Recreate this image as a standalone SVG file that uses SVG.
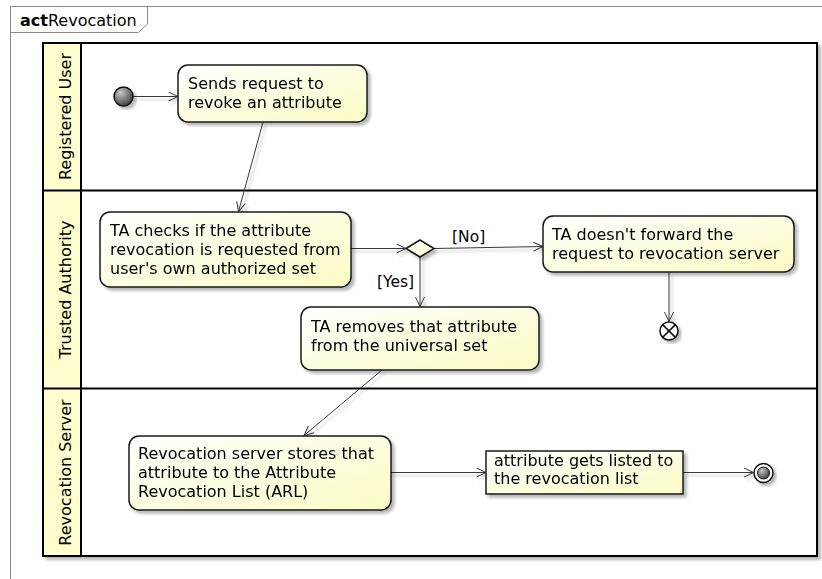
<svg xmlns="http://www.w3.org/2000/svg" width="822" height="579" viewBox="0 0 822 579">
  <defs>
    <style>
      text { font-family: "DejaVu Sans", "Liberation Sans", sans-serif; font-size: 16px; fill: #000; }
      .frame { fill: none; stroke: #8a8a8a; stroke-width: 1; }
      .lane { fill: #ffffff; stroke: #000; stroke-width: 2; }
      .lanehead { fill: #fefece; stroke: #000; stroke-width: 2; }
      .laneline { stroke: #000; stroke-width: 2; }
      .act { fill: url(#actFill); stroke: #181818; stroke-width: 1.5; }
      .edge { fill: none; stroke: #383838; stroke-width: 1; }
      .lbl { font-size: 15.5px; }
    </style>
    <linearGradient id="actFill" x1="0" y1="0" x2="1" y2="1">
      <stop offset="0" stop-color="#ffffff"/>
      <stop offset="1" stop-color="#fbfbc4"/>
    </linearGradient>
    <radialGradient id="dotFill" cx="0.35" cy="0.3" r="0.8">
      <stop offset="0" stop-color="#c8c8c8"/>
      <stop offset="1" stop-color="#333333"/>
    </radialGradient>
    <filter id="shadow" x="-10%" y="-10%" width="130%" height="130%">
      <feGaussianBlur in="SourceAlpha" stdDeviation="1.6" result="b"/>
      <feOffset in="b" dx="3" dy="3" result="o"/>
      <feComponentTransfer in="o" result="s">
        <feFuncA type="linear" slope="0.28"/>
      </feComponentTransfer>
      <feMerge>
        <feMergeNode in="s"/>
        <feMergeNode in="SourceGraphic"/>
      </feMerge>
    </filter>
    <marker id="open" markerUnits="userSpaceOnUse" markerWidth="12" markerHeight="12" refX="10" refY="5" orient="auto">
      <path d="M0.5,0.5 L10,5 L0.5,9.5" fill="none" stroke="#383838" stroke-width="1"/>
    </marker>
  </defs>

  <!-- activity frame with its name tab -->
  <g id="frame">
    <path class="frame" d="M10.5,579 V6.5 H822"/>
    <path class="frame" d="M10.5,32.5 H138.5 L147.5,24 V6.5"/>
    <text x="20" y="26"><tspan font-weight="bold">act</tspan>Revocation</text>
  </g>

  <!-- swimlanes -->
  <g id="lanes" filter="url(#shadow)">
    <rect class="lane" x="43" y="43" width="774" height="513"/>
    <rect class="lanehead" x="43" y="43" width="38" height="513"/>
    <line class="laneline" x1="43" y1="190.5" x2="817" y2="190.5"/>
    <line class="laneline" x1="43" y1="388.5" x2="817" y2="388.5"/>
  </g>
  <g id="lane-titles">
    <text transform="translate(71,116.5) rotate(-90)" text-anchor="middle">Registered User</text>
    <text transform="translate(71,289.5) rotate(-90)" text-anchor="middle">Trusted Authority</text>
    <text transform="translate(71,472.5) rotate(-90)" text-anchor="middle">Revocation Server</text>
  </g>

  <!-- connectors -->
  <g id="connectors" filter="url(#shadow)">
    <line class="edge" x1="133" y1="96.5" x2="178" y2="96.5" marker-end="url(#open)"/>
    <line class="edge" x1="263" y1="122" x2="238.5" y2="211.5" marker-end="url(#open)"/>
    <line class="edge" x1="351" y1="248.5" x2="406" y2="248.5" marker-end="url(#open)"/>
    <line class="edge" x1="434" y1="248.5" x2="543" y2="246.5" marker-end="url(#open)"/>
    <line class="edge" x1="420" y1="257" x2="420" y2="306.5" marker-end="url(#open)"/>
    <line class="edge" x1="669" y1="272" x2="669" y2="321.5" marker-end="url(#open)"/>
    <line class="edge" x1="382" y1="370" x2="304" y2="435.5" marker-end="url(#open)"/>
    <line class="edge" x1="391" y1="472.5" x2="486" y2="472.5" marker-end="url(#open)"/>
    <line class="edge" x1="683" y1="472.5" x2="753.5" y2="472.5" marker-end="url(#open)"/>
  </g>
  <g id="edge-labels">
    <text class="lbl" x="452" y="242">[No]</text>
    <text class="lbl" x="377" y="287">[Yes]</text>
  </g>

  <!-- nodes -->
  <g id="start" filter="url(#shadow)">
    <circle cx="123.5" cy="96.5" r="9.5" fill="url(#dotFill)" stroke="#111" stroke-width="1.5"/>
  </g>

  <g id="sends-request" filter="url(#shadow)">
    <rect class="act" x="178" y="65" width="189" height="57" rx="10" ry="10"/>
    <text x="188" y="89">Sends request to</text>
    <text x="188" y="108">revoke an attribute</text>
  </g>

  <g id="ta-checks" filter="url(#shadow)">
    <rect class="act" x="100" y="212" width="251" height="75" rx="10" ry="10"/>
    <text x="110" y="236">TA checks if the attribute</text>
    <text x="110" y="255">revocation is requested from</text>
    <text x="110" y="274">user's own authorized set</text>
  </g>

  <g id="decision" filter="url(#shadow)">
    <polygon class="act" points="406,248.5 420,240 434,248.5 420,257"/>
  </g>

  <g id="ta-not-forward" filter="url(#shadow)">
    <rect class="act" x="543" y="216" width="251" height="56" rx="10" ry="10"/>
    <text x="552" y="240">TA doesn't forward the</text>
    <text x="552" y="259">request to revocation server</text>
  </g>

  <g id="flow-final" filter="url(#shadow)">
    <circle cx="669" cy="331" r="9" fill="#ffffff" stroke="#111" stroke-width="1.5"/>
    <path d="M662.6,324.6 L675.4,337.4 M675.4,324.6 L662.6,337.4" stroke="#111" stroke-width="1.5"/>
  </g>

  <g id="ta-removes" filter="url(#shadow)">
    <rect class="act" x="301" y="307" width="238" height="63" rx="10" ry="10"/>
    <text x="311" y="332">TA removes that attribute</text>
    <text x="311" y="351">from the universal set</text>
  </g>

  <g id="server-stores" filter="url(#shadow)">
    <rect class="act" x="129" y="436" width="262" height="74" rx="10" ry="10"/>
    <text x="138" y="459">Revocation server stores that</text>
    <text x="138" y="478">attribute to the Attribute</text>
    <text x="138" y="497">Revocation List (ARL)</text>
  </g>

  <g id="listed" filter="url(#shadow)">
    <rect class="act" x="486" y="451" width="197" height="43"/>
    <text x="494" y="466">attribute gets listed to</text>
    <text x="494" y="484">the revocation list</text>
  </g>

  <g id="end" filter="url(#shadow)">
    <circle cx="763.5" cy="473" r="9.5" fill="#ffffff" stroke="#111" stroke-width="1.5"/>
    <circle cx="763.5" cy="473" r="6" fill="url(#dotFill)" stroke="#111" stroke-width="1"/>
  </g>
</svg>
